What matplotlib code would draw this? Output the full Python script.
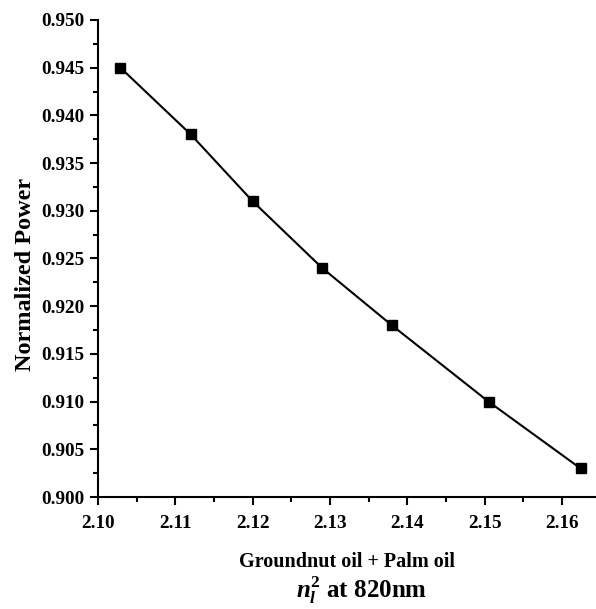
import numpy as np
import matplotlib
matplotlib.use('Agg')
import matplotlib.pyplot as plt
from matplotlib.ticker import MultipleLocator, FormatStrFormatter

plt.rcParams['font.family'] = 'Liberation Serif'
plt.rcParams['font.weight'] = 'bold'
plt.rcParams['mathtext.fontset'] = 'custom'
plt.rcParams['mathtext.rm'] = 'Liberation Serif:bold'
plt.rcParams['mathtext.it'] = 'Liberation Serif:italic:bold'
plt.rcParams['mathtext.bf'] = 'Liberation Serif:bold'

# refractive index squared (groundnut + palm oil mix) vs normalized power
n2 = [2.1029, 2.112, 2.120, 2.129, 2.138, 2.1505, 2.1624]
power = [0.945, 0.938, 0.931, 0.924, 0.918, 0.910, 0.903]

fig = plt.figure(figsize=(5.96, 6.09), dpi=100)
ax = fig.add_axes([0.1644, 0.1839, 0.8356, 0.7833])

ax.plot(n2, power, '-k', lw=1.5, marker='s', ms=6.5, mfc='k', mec='k')

ax.set_xlim(2.10, 2.1644)
ax.set_ylim(0.900, 0.950)
ax.xaxis.set_major_locator(MultipleLocator(0.01))
ax.xaxis.set_minor_locator(MultipleLocator(0.005))
ax.yaxis.set_major_locator(MultipleLocator(0.005))
ax.yaxis.set_minor_locator(MultipleLocator(0.0025))
ax.xaxis.set_major_formatter(FormatStrFormatter('%.2f'))
ax.yaxis.set_major_formatter(FormatStrFormatter('%.3f'))

for s in ['top', 'right']:
    ax.spines[s].set_visible(False)
for s in ['left', 'bottom']:
    ax.spines[s].set_linewidth(1.5)
ax.tick_params(which='major', direction='out', length=6, width=1.5, labelsize=13.8)
ax.tick_params(axis='x', which='major', pad=7)
ax.tick_params(which='minor', direction='out', length=3.5, width=1.5)

ax.set_ylabel('Normalized Power', fontsize=17.5, fontweight='bold')
ax.yaxis.set_label_coords(-0.125, 0.467)
ax.set_xlabel('Groundnut oil + Palm oil', fontsize=14.5, fontweight='bold', labelpad=14)
fig.text(0.607, 0.018, r'$n_l^2$ at 820nm', fontsize=18, fontweight='bold', ha='center')

plt.savefig('out.png', dpi=100)
